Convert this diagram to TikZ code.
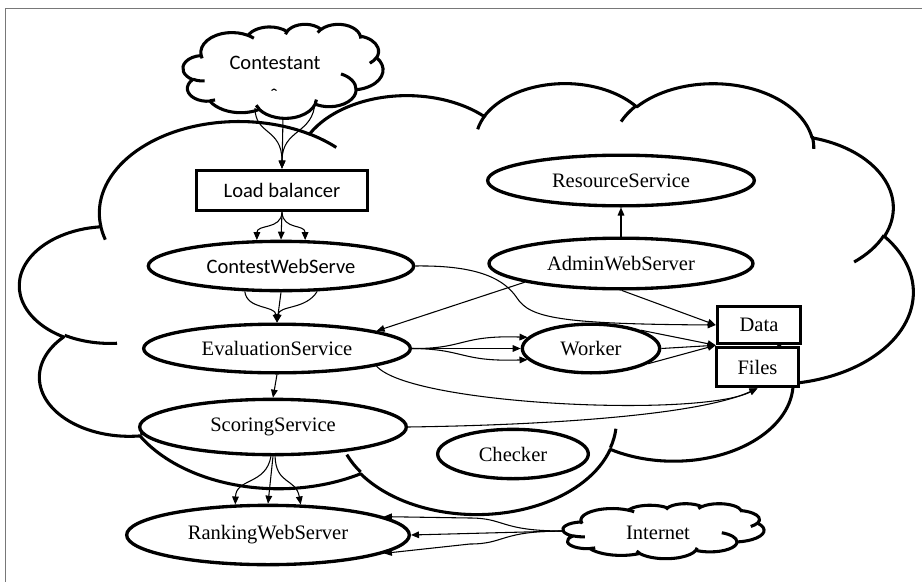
\documentclass[tikz,border=0pt]{standalone}
\usepackage{fontspec}
\setmainfont{Liberation Serif}
\newfontfamily\calibri{Carlito}
\usetikzlibrary{shapes.geometric,arrows.meta,backgrounds}
\definecolor{framegray}{RGB}{120,120,120}
% parametric angle for an OOXML (visual) angle on an ellipse wR x hR
\newcommand\oopar[3]{(atan2((#1)*sin(#3),(#2)*cos(#3))+360*round(((#3)-atan2((#1)*sin(#3),(#2)*cos(#3)))/360))}
\tikzset{ooarc/.style n args={4}{insert path={arc[x radius=#1, y radius=#2, start angle={\oopar{#1}{#2}{#3}}, end angle={\oopar{#1}{#2}{#3+#4}}]}}}
% Office-style cloud in a 100x100 box
\newcommand\officecloud[1]{%
  \draw[#1] (9.028,33.264) [ooarc={15.632}{21.273}{-190.4875}{123.7805}]
    [ooarc={12.345}{16.822}{-144.1024}{89.9452}]
    [ooarc={10.104}{13.762}{-145.8079}{99.7230}]
    [ooarc={11.243}{15.266}{-130.9861}{117.2417}]
    [ooarc={12.345}{16.836}{-78.7089}{109.0269}]
    [ooarc={15.683}{21.343}{-46.2673}{130.2690}]
    [ooarc={13.391}{18.211}{0.6250}{114.0333}]
    [ooarc={15.630}{21.331}{22.4516}{115.1726}]
    [ooarc={17.870}{24.405}{66.2426}{75.7110}]
    [ooarc={10.093}{13.699}{-274.9421}{146.7356}]
    [ooarc={10.058}{13.762}{-246.8285}{152.5189}] -- cycle;
  \draw[#1] (10.863,60.595) [ooarc={10.058}{13.762}{86.7420}{26.4295}]
    (16.037,80.785) [ooarc={10.093}{13.699}{73.6105}{11.4475}]
    (38.144,90.486) [ooarc={15.630}{21.331}{137.6242}{14.0811}]
    (66.729,80.442) [ooarc={15.630}{21.331}{6.4533}{15.9984}]
    (79.002,53.134) [ooarc={13.391}{18.211}{-70.2924}{70.9174}]
    (96.755,35.542) [ooarc={12.345}{16.836}{30.3180}{27.7515}]
    (88.713,12.560) [ooarc={11.243}{15.266}{-13.7443}{14.8589}]
    (67.310,9.148) [ooarc={11.243}{15.266}{-149.1815}{18.1954}]
    (51.252,10.926) [ooarc={10.104}{13.762}{-163.4943}{17.6864}]
    (32.407,12.019) [ooarc={15.632}{21.273}{-66.7070}{12.3194}]
    (9.553,36.549) [ooarc={15.632}{21.273}{157.6544}{11.8582}];
}
\begin{document}
\begin{tikzpicture}[x=0.75pt,y=-0.75pt,
  every node/.style={font=\fontsize{15.4}{18}\selectfont},
  ell/.style={ellipse,draw,line width=2.5pt,fill=white,inner sep=0pt},
  boxn/.style={rectangle,draw,line width=2.4pt,fill=white,inner sep=0pt},
  area/.style={inner sep=0pt,outer sep=0pt},
  sansf/.style={font=\calibri\fontsize{15.4}{18}\selectfont},
  conn/.style={line width=0.8pt,-{Triangle[length=6pt,width=5pt]}},
  cloudline/.style={line width=2.3pt,line join=round},
]
\useasboundingbox (0,0) rectangle (922,582);
\draw[framegray,line width=0.8pt] (5.5,8.5) rectangle (940,600);

% nodes
\node[area, minimum width=150pt, minimum height=70.5pt] (cont) at (283,71) {};
\node[sansf] (contlabel) at (275,63) {Contestant};
\coordinate (contA) at (255,108);
\coordinate (contC) at (315,101);
\node[boxn, sansf, minimum width=128pt, minimum height=30.5pt] (lb) at (282,190.5) {Load balancer};
\node[ell, sansf, minimum width=199pt, minimum height=37pt] (cws) at (281,266) {ContestWebServe};
\node[ell, minimum width=200pt, minimum height=38pt] (res) at (621,180.5) {ResourceService};
\node[ell, minimum width=198pt, minimum height=38pt] (admin) at (621,263.5) {AdminWebServer};
\node[ell, minimum width=200pt, minimum height=36.5pt] (eval) at (277,348.5) {EvaluationService};
\node[ell, minimum width=200pt, minimum height=41.5pt] (score) at (273,427) {ScoringService};
\node[ell, minimum width=212pt, minimum height=44.5pt] (rank) at (268,535) {RankingWebServer};
\node[ell, minimum width=103pt, minimum height=36.5pt] (worker) at (591,348.5) {Worker};
\node[ell, minimum width=113pt, minimum height=37pt] (checker) at (513,454) {Checker};
\node[boxn, minimum width=61.5pt, minimum height=29.5pt] (files) at (757.5,367) {Files};
\node[boxn, minimum width=62.5pt, minimum height=28pt] (data) at (759,325) {Data};
\node[area, minimum width=150.75pt, minimum height=41pt] (inet) at (663.5,531) {};
\node (inettext) at (658,533) {Internet};

% clouds
\begin{pgfonlayer}{background}
\begin{scope}[shift={(20,82.2)},x=6.6975pt,y=-3.231pt]
  \officecloud{cloudline}
\end{scope}
\end{pgfonlayer}
\begin{scope}[shift={(183,24)},x=1.5pt,y=-0.705pt]
  \officecloud{cloudline}
\end{scope}
\begin{scope}[shift={(563,503.5)},x=1.5075pt,y=-0.4125pt]
  \officecloud{cloudline}
\end{scope}

% small mark in contestant cloud
\draw[line width=0.8pt] (271.5,90.5) .. controls (273,88.5) and (275,88.5) .. (276.5,90.5);

% connectors
\draw[conn] (contA) .. controls (255,135) and (282,128) .. (lb.north);
\draw[conn] (cont.south) -- (lb.north);
\draw[conn] (contC) .. controls (314,135) and (282,128) .. (lb.north);

\draw[conn] (lb.south) .. controls (281,230) and (257,224) .. (cws.133);
\draw[conn] (lb.south) -- (cws.north);
\draw[conn] (lb.south) .. controls (283,230) and (305,224) .. (cws.47);

\draw[conn] (cws.-145) .. controls (247,310) and (275,305) .. (eval.north);
\draw[conn] (cws.south) -- (eval.north);
\draw[conn] (cws.-35) .. controls (306,310) and (279,305) .. (eval.north);

\draw[conn] (eval.south) -- (score.north);

\draw[conn] (score.-94) .. controls (266,485) and (236,478) .. (rank.137);
\draw[conn] (score.south) -- (rank.north);
\draw[conn] (score.-86) .. controls (276,485) and (296,478) .. (rank.43);

\draw[conn] (inet.west) .. controls (500,531) and (505,518) .. (470,518) -- (rank.9);
\draw[conn] (inet.west) -- (rank.east);
\draw[conn] (inet.west) .. controls (500,531) and (505,544) .. (470,544) -- (rank.-9);

\draw[conn] (cws.east) .. controls (480,265) and (505,280) .. (517,298) .. controls (530,318) and (560,324) .. (data.west);
\draw[conn] (admin.-169) -- (eval.10);
\draw[conn] (admin.north) -- (res.south);
\draw[conn] (admin.-88) -- (data.west);

\draw[conn] (worker.20) -- (data.south west);
\draw[conn] (worker.east) -- (data.south west);
\draw[conn] (worker.-15) -- (data.south west);

\draw[conn] (eval.east) .. controls (465,349) and (460,335) .. (worker.170);
\draw[conn] (eval.east) -- (worker.west);
\draw[conn] (eval.east) .. controls (465,349) and (460,362) .. (worker.-170);

\draw[conn] (eval.-10) .. controls (410,405) and (700,418) .. (files.south);
\draw[conn] (score.east) .. controls (550,425) and (700,415) .. (files.south);
\end{tikzpicture}
\end{document}
